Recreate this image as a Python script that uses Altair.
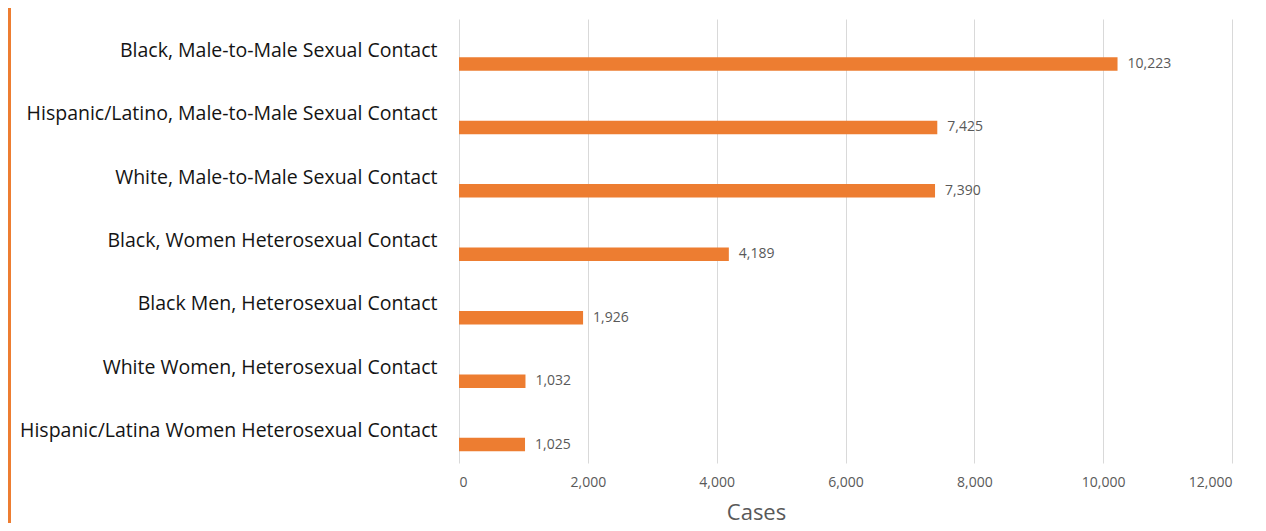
import altair as alt
import pandas as pd

categories = [
    "Black, Male-to-Male Sexual Contact",
    "Hispanic/Latino, Male-to-Male Sexual Contact",
    "White, Male-to-Male Sexual Contact",
    "Black, Women Heterosexual Contact",
    "Black Men, Heterosexual Contact",
    "White Women, Heterosexual Contact",
    "Hispanic/Latina Women Heterosexual Contact ",
]
cases = [10223, 7425, 7390, 4189, 1926, 1032, 1025]
x_ticks = [0, 2000, 4000, 6000, 8000, 10000, 12000]

df = pd.DataFrame({"category": categories, "cases": cases})

ORANGE = "#ED7D31"
FONT = "Open Sans"

y_enc = alt.Y(
    "category:N",
    sort=categories,
    scale=alt.Scale(paddingInner=0, paddingOuter=0),
    axis=alt.Axis(
        title=None,
        ticks=False,
        domain=False,
        grid=False,
        labelFontSize=19.5,
        labelFont=FONT,
        labelFontWeight=500,
        labelColor="#141414",
        labelPadding=22,
        labelLimit=600,
    ),
)

x_enc = alt.X(
    "cases:Q",
    scale=alt.Scale(domain=[0, 12000], nice=False),
    axis=alt.Axis(
        title="Cases",
        values=x_ticks,
        format=",d",
        ticks=False,
        domain=False,
        grid=True,
        gridColor="#d9d9d9",
        gridWidth=1,
        labelFontSize=14,
        labelFont=FONT,
        labelColor="#595959",
        labelPadding=12,
        titleFont=FONT,
        titleFontSize=22,
        titleFontWeight="normal",
        titleColor="#595959",
        titleX=297,
        titleY=56,
        titleAlign="center",
        titleBaseline="alphabetic",
    ),
)

bars = alt.Chart(df).mark_bar(color=ORANGE, height=13.5, yOffset=13.3).encode(
    x=x_enc, y=y_enc
)

labels = alt.Chart(df).mark_text(
    align="left", baseline="middle", dx=10, yOffset=13.3,
    fontSize=14, font=FONT, color="#595959",
).encode(
    x="cases:Q",
    y=alt.Y("category:N", sort=categories),
    text=alt.Text("cases:Q", format=",d"),
)

edge = alt.Chart(pd.DataFrame({"a": [0]})).mark_rule(
    color=ORANGE, strokeWidth=3
).encode(
    x=alt.value(-449.5),
    y=alt.value(-11),
    y2=alt.value(504),
)

chart = alt.layer(bars, labels, edge).properties(
    width=773,
    height=444,
    autosize=alt.AutoSizeParams(type="none"),
    padding={"left": 451, "top": 11, "right": 26, "bottom": 60},
).configure_view(stroke=None)

chart.save("out.html", embed_options={"renderer": "svg", "actions": False})
